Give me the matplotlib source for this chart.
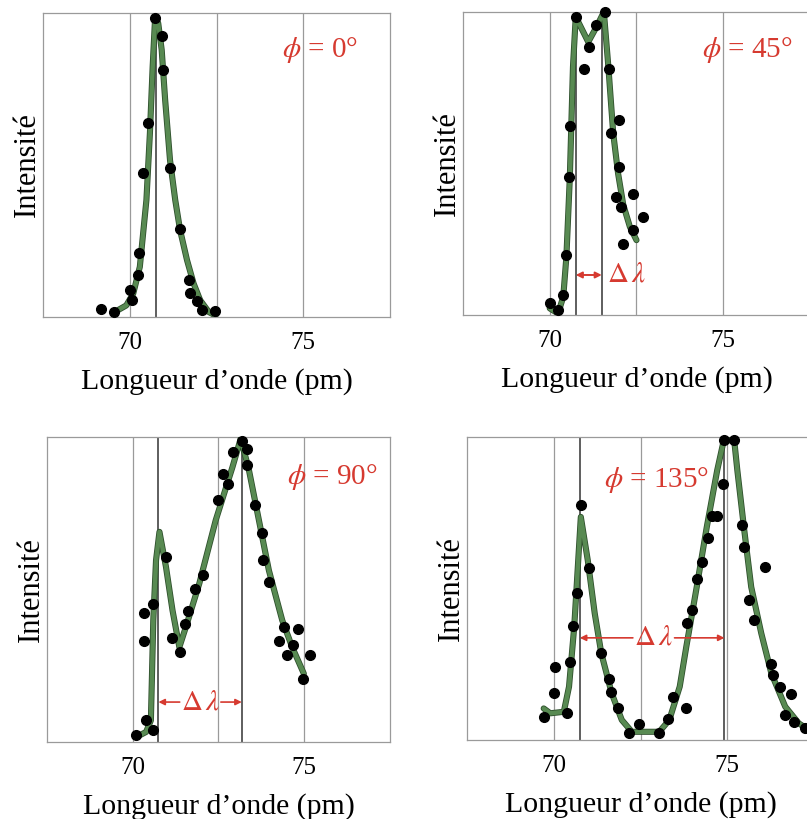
import matplotlib
matplotlib.use("Agg")
import matplotlib.pyplot as plt
import matplotlib.patheffects as pe

plt.rcParams['font.family'] = ['Liberation Serif', 'DejaVu Serif']
plt.rcParams['mathtext.fontset'] = 'stix'

# wavelengths of the reference lines (pm)
lambda0 = 70.75
lambda_shift = {"0": None, "45": 71.5, "90": 73.18, "135": 74.92}
grid_lines = [70, 72.5, 75]

# phi = 0 deg
pts0_x = [69.18, 69.56, 70.0, 70.05, 70.24, 70.27, 70.39, 70.53, 70.73, 70.92,
          70.97, 71.16, 71.45, 71.70, 71.74, 71.94, 72.08, 72.47]
pts0_y = [0.027, 0.016, 0.088, 0.055, 0.137, 0.211, 0.473, 0.637, 0.984, 0.925,
          0.813, 0.489, 0.291, 0.121, 0.079, 0.053, 0.022, 0.020]
fit0_x = [69.56, 69.90, 70.10, 70.29, 70.48, 70.58, 70.66, 70.73, 70.82, 70.92,
          71.02, 71.16, 71.31, 71.45, 71.65, 71.84, 72.03, 72.28, 72.47]
fit0_y = [0.016, 0.038, 0.077, 0.165, 0.385, 0.604, 0.824, 0.984, 0.967, 0.879,
          0.714, 0.516, 0.385, 0.286, 0.187, 0.110, 0.055, 0.016, 0.005]

# phi = 45 deg
pts45_x = [70.0, 70.24, 70.39, 70.48, 70.55, 70.59, 70.75, 70.99, 71.13, 71.32,
           71.59, 71.71, 71.78, 71.99, 72.00, 71.91, 72.05, 72.41, 72.12, 72.41, 72.68]
pts45_y = [0.041, 0.016, 0.066, 0.198, 0.454, 0.623, 0.984, 0.811, 0.885, 0.956,
           1.0, 0.811, 0.601, 0.643, 0.487, 0.390, 0.357, 0.398, 0.233, 0.280, 0.322]
fit45_x = [70.0, 70.24, 70.39, 70.48, 70.58, 70.67, 70.75, 71.11, 71.35, 71.56,
           71.69, 71.83, 71.97, 72.12, 72.31, 72.50]
fit45_y = [0.022, 0.005, 0.060, 0.192, 0.456, 0.819, 0.984, 0.901, 0.951, 1.0,
           0.819, 0.599, 0.467, 0.363, 0.291, 0.247]

# phi = 90 deg
pts90_x = [70.10, 70.39, 70.60, 70.32, 70.34, 70.58, 70.97, 71.16, 71.38, 71.52,
           71.62, 71.82, 72.05, 72.50, 72.64, 72.77, 72.91, 73.18, 73.34, 73.34,
           73.56, 73.76, 73.81, 73.97, 74.41, 74.26, 74.49, 74.67, 74.82, 75.16, 74.97]
pts90_y = [0.022, 0.071, 0.040, 0.330, 0.424, 0.454, 0.607, 0.342, 0.295, 0.386,
           0.430, 0.501, 0.546, 0.792, 0.878, 0.847, 0.951, 0.987, 0.960, 0.907,
           0.776, 0.685, 0.596, 0.525, 0.377, 0.331, 0.284, 0.317, 0.372, 0.284, 0.208]
fit90_x = [70.10, 70.39, 70.53, 70.60, 70.68, 70.78, 70.97, 71.16, 71.36, 71.55,
           71.94, 72.42, 72.91, 73.15, 73.39, 73.68, 73.97, 74.36, 74.65, 74.99]
fit90_y = [0.016, 0.033, 0.071, 0.399, 0.596, 0.689, 0.574, 0.432, 0.311, 0.377,
           0.519, 0.727, 0.902, 0.995, 0.891, 0.727, 0.563, 0.399, 0.311, 0.224]

# phi = 135 deg
pts135_x = [69.73, 70.02, 70.03, 70.39, 70.46, 70.56, 70.66, 70.78, 71.01, 71.37,
            71.59, 71.65, 71.84, 72.16, 72.47, 73.04, 73.28, 73.45, 73.82, 73.84,
            73.99, 74.14, 74.28, 74.44, 74.56, 74.71, 74.88, 74.90, 75.20, 75.42,
            75.49, 76.08, 75.64, 75.76, 76.25, 76.32, 76.52, 76.84, 76.67, 76.91, 77.25]
pts135_y = [0.077, 0.154, 0.242, 0.088, 0.256, 0.376, 0.484, 0.775, 0.568, 0.288,
            0.200, 0.159, 0.104, 0.022, 0.053, 0.022, 0.068, 0.143, 0.104, 0.385,
            0.429, 0.530, 0.588, 0.668, 0.738, 0.738, 0.846, 0.989, 0.989, 0.709,
            0.637, 0.571, 0.462, 0.396, 0.251, 0.214, 0.176, 0.152, 0.082, 0.060, 0.038]
fit135_x = [69.71, 69.90, 70.29, 70.44, 70.59, 70.78, 70.98, 71.18, 71.37, 71.67,
            71.96, 72.25, 72.65, 73.04, 73.33, 73.63, 73.82, 74.12, 74.41, 74.71,
            74.90, 75.20, 75.29, 75.49, 75.69, 75.98, 76.27, 76.67, 77.06, 77.35]
fit135_y = [0.104, 0.088, 0.093, 0.176, 0.374, 0.736, 0.593, 0.418, 0.286, 0.154,
            0.066, 0.027, 0.027, 0.027, 0.066, 0.176, 0.308, 0.505, 0.703, 0.890,
            0.989, 0.989, 0.890, 0.692, 0.505, 0.352, 0.220, 0.110, 0.055, 0.033]

panels = [
    ("0", pts0_x, pts0_y, fit0_x, fit0_y, [0.0533, 0.613, 0.430, 0.371], (75.49, 0.878)),
    ("45", pts45_x, pts45_y, fit45_x, fit45_y, [0.5737, 0.6154, 0.430, 0.370], (75.69, 0.875)),
    ("90", pts90_x, pts90_y, fit90_x, fit90_y, [0.0582, 0.094, 0.425, 0.3724], (75.81, 0.869)),
    ("135", pts135_x, pts135_y, fit135_x, fit135_y, [0.5787, 0.0965, 0.430, 0.370], (72.97, 0.858)),
]

# (y position, text centre x) of the delta-lambda markers
delta_marks = {"45": (0.132, None), "90": (0.131, 71.97), "135": (0.337, 72.88)}

RED = '#d63a30'
GREEN = '#588a52'

fig = plt.figure(figsize=(8.07, 8.19), dpi=100)

for angle, px, py, fx, fy, rect, phi_pos in panels:
    ax = fig.add_axes(rect)
    ax.set_xlim(67.5, 77.5)
    ax.set_ylim(0, 1.0)

    for g in grid_lines:
        ax.axvline(g, color='#9a9a9a', lw=0.9, zorder=1)
    ax.axvline(lambda0, color='#333333', lw=1.1, zorder=1)
    if lambda_shift[angle] is not None:
        ax.axvline(lambda_shift[angle], color='#333333', lw=1.1, zorder=1)

    ax.plot(fx, fy, color=GREEN, lw=3.2, zorder=3, solid_capstyle='round',
            path_effects=[pe.Stroke(linewidth=4.4, foreground='#2e4f2c'), pe.Normal()])
    ax.plot(px, py, 'o', color='black', ms=7, zorder=4, clip_on=False)

    ax.text(phi_pos[0], phi_pos[1], r'$\phi$ = ' + angle + '°', color=RED,
            fontsize=21, ha='center', va='center', zorder=2)

    if angle in delta_marks:
        y, xc = delta_marks[angle]
        x1 = lambda_shift[angle]
        if xc is None:
            ax.annotate('', xy=(lambda0, y), xytext=(x1, y),
                        arrowprops=dict(arrowstyle='<|-|>', color=RED, lw=1.4,
                                        mutation_scale=9, shrinkA=0, shrinkB=0))
            ax.text(x1 + 0.15, y, r'$\Delta\,\lambda$', color=RED, fontsize=21,
                    ha='left', va='center')
        else:
            half = 0.6
            ax.annotate('', xy=(lambda0, y), xytext=(xc - half, y),
                        arrowprops=dict(arrowstyle='-|>', color=RED, lw=1.2,
                                        mutation_scale=9, shrinkA=0, shrinkB=0))
            ax.annotate('', xy=(x1, y), xytext=(xc + half, y),
                        arrowprops=dict(arrowstyle='-|>', color=RED, lw=1.2,
                                        mutation_scale=9, shrinkA=0, shrinkB=0))
            ax.text(xc, y, r'$\Delta\,\lambda$', color=RED, fontsize=21,
                    ha='center', va='center')

    ax.set_xticks([70, 75])
    ax.set_xticklabels(['70', '75'])
    ax.set_yticks([])
    ax.tick_params(axis='x', length=0, pad=11, labelsize=18)
    for s in ax.spines.values():
        s.set_color('#9a9a9a')
        s.set_linewidth(0.9)
    ax.set_xlabel("Longueur d\u2019onde (pm)", fontsize=21.5, labelpad=10)
    ax.set_ylabel("Intensité", fontsize=22, labelpad=1)

fig.savefig('out.png', dpi=100)
